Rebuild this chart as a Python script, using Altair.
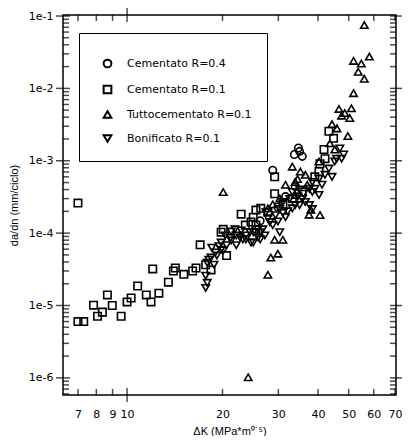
import altair as alt
import pandas as pd

# ---------------- data ----------------
series_names = ["Cementato R=0.4", "Cementato R=0.1", "Tuttocementato R=0.1", "Bonificato R=0.1"]
shapes = ["circle", "square", "triangle-up", "triangle-down"]

dk_cem04 = [34.7, 35.0, 33.7, 35.7, 28.8, 26.3, 25.5, 31.6, 33.9, 29.9]
dadn_cem04 = [1.5e-3, 1.35e-3, 1.22e-3, 1.15e-3, 7.4e-4, 1.48e-4, 1.13e-4, 3.2e-4, 4.4e-4, 2.3e-4]

dk_cem01 = [7.0, 7.0, 7.3, 7.84, 8.07, 8.36, 8.67, 8.98, 9.58, 10.0, 10.3, 10.8, 11.5, 11.9,
            12.05, 12.6, 13.5, 14.0, 14.2, 15.1, 16.1, 16.5, 17.0, 17.7, 18.4, 19.8, 20.1, 20.6,
            22.9, 23.6, 24.6, 25.0, 25.5, 25.5, 26.4, 27.8, 29.2, 29.2, 31.0, 33.2, 35.7,
            39.1, 40.3, 40.6, 41.8, 42.1, 43.3, 44.8]
dadn_cem01 = [2.6e-4, 6.0e-6, 6.0e-6, 1.01e-5, 7.1e-6, 8.1e-6, 1.4e-5, 1.0e-5, 7.1e-6, 1.12e-5,
              1.27e-5, 1.86e-5, 1.4e-5, 1.12e-5, 3.2e-5, 1.48e-5, 2.1e-5, 3.0e-5, 3.3e-5, 2.7e-5,
              3.0e-5, 3.3e-5, 6.9e-5, 3.66e-5, 3.1e-5, 1.03e-4, 1.13e-4, 4.9e-5, 1.83e-4, 1.29e-4,
              1.42e-4, 1.66e-4, 1.29e-4, 2.08e-4, 2.2e-4, 1.95e-4, 3.5e-4, 6.0e-4, 2.5e-4, 3.0e-4,
              3.7e-4, 6.0e-4, 7.1e-4, 9.1e-4, 1.43e-3, 1.07e-3, 2.56e-3, 2.04e-3]

dk_tutto = [20.1, 24.1, 27.8, 28.4, 29.9, 29.2, 31.0, 37.5, 40.6, 38.0,
            56.0, 58.1, 51.8, 54.8, 53.6, 56.0, 51.8, 46.6, 48.6, 51.0, 47.5, 50.4, 44.3, 45.9, 49.7,
            35.2, 36.5, 33.9, 31.6, 33.2, 45.2, 43.6, 40.3, 34.5, 37.0, 33.9, 27.8, 30.3, 28.8]
dadn_tutto = [3.7e-4, 1.02e-6, 2.66e-5, 4.6e-5, 5.2e-5, 8.1e-5, 8.1e-5, 1.8e-4, 1.78e-4, 2.1e-4,
              7.5e-2, 2.75e-2, 2.4e-2, 2.2e-2, 1.7e-2, 1.36e-2, 8.6e-3, 5.2e-3, 4.57e-3, 5.3e-3,
              4.2e-3, 3.9e-3, 3.2e-3, 2.8e-3, 2.2e-3,
              7.1e-4, 6.4e-4, 5.1e-4, 4.66e-4, 8.3e-4, 1.43e-3, 1.74e-3, 9.75e-4, 5.6e-4, 4.66e-4,
              3.37e-4, 2.2e-4, 3.0e-4, 2.5e-4]

dk_bonif = [17.7, 17.9, 17.7, 17.9, 18.4, 19.0, 19.8, 20.6, 21.3, 22.1, 23.2, 24.4, 25.0, 25.9,
            21.9, 18.1, 18.8, 19.2, 19.8, 20.1, 21.2, 22.1, 22.7, 23.7, 24.6, 25.9, 27.2, 18.5,
            19.5, 20.4, 21.3, 22.9, 26.4, 23.7, 25.0, 26.3, 26.8, 28.2, 27.4, 29.4, 30.3, 31.0,
            32.6, 33.2, 35.0, 35.7, 37.6, 38.4, 39.1, 40.3, 37.6, 33.9, 31.6, 28.8, 30.3, 47.5,
            45.2, 43.3, 44.3, 41.2, 42.1, 38.4, 40.3, 36.5, 38.4, 35.0, 48.2, 45.8, 46.9,
            27.8, 29.9, 32.1, 34.5, 36.0, 31.0, 33.2]
dadn_bonif = [2.58e-5, 2.06e-5, 1.75e-5, 3.9e-5, 4.6e-5, 5.4e-5, 5.9e-5, 6.8e-5, 7.9e-5, 9.3e-5,
              8.2e-5, 1.03e-4, 7.4e-5, 1.13e-4, 1.13e-4, 4.3e-5, 3.66e-5, 4.9e-5, 7.4e-5, 5.75e-5,
              8.6e-5, 6.8e-5, 8.7e-5, 9.3e-5, 7.4e-5, 8.7e-5, 9.3e-5, 6.3e-5, 6.6e-5, 9.3e-5,
              1.05e-4, 1.09e-4, 1.03e-4, 8.2e-5, 1.03e-4, 8.2e-5, 1.13e-4, 1.42e-4, 1.95e-4, 1.77e-4,
              2.15e-4, 2.69e-4, 2.96e-4, 3.7e-4, 4.0e-4, 2.96e-4, 4.09e-4, 5.1e-4, 4.09e-4, 5.6e-4,
              2.44e-4, 2.44e-4, 1.66e-4, 1.29e-4, 1.03e-4, 1.07e-3, 9.75e-4, 7.8e-4, 6.0e-4, 4.66e-4,
              6.4e-4, 3.7e-4, 3.37e-4, 2.69e-4, 2.15e-4, 2.44e-4, 1.22e-3, 1.07e-3, 1.48e-3,
              1.6e-4, 1.45e-4, 2.0e-4, 3.2e-4, 3.5e-4, 1.9e-4, 2.2e-4]

x_labels = [7, 8, 9, 10, 20, 30, 40, 50, 60, 70]
x_major = [10]
x_minor = [7, 8, 9, 20, 30, 40, 50, 60, 70]
y_labels = [1e-6, 1e-5, 1e-4, 1e-3, 1e-2, 1e-1]
y_decades = [-7, -6, -5, -4, -3, -2]
y_mult = [2, 3, 4, 5, 6, 7, 8, 9]

X_DOMAIN = [6.28, 70.5]
Y_DOMAIN = [5.8e-7, 0.1033]

# ---------------- build tables ----------------
rows = []
for name, dks, ys in [
    ("Cementato R=0.1", dk_cem01, dadn_cem01),
    ("Bonificato R=0.1", dk_bonif, dadn_bonif),
    ("Tuttocementato R=0.1", dk_tutto, dadn_tutto),
    ("Cementato R=0.4", dk_cem04, dadn_cem04),
]:
    for a, b in zip(dks, ys):
        rows.append({"dk": a, "dadn": b, "serie": name})
df = pd.DataFrame(rows)

y_minor = [m * 10.0 ** e for e in y_decades for m in y_mult]
y_minor = [v for v in y_minor if Y_DOMAIN[0] <= v <= Y_DOMAIN[1]]

xscale = alt.Scale(type="log", domain=X_DOMAIN, nice=False)
yscale = alt.Scale(type="log", domain=Y_DOMAIN, nice=False)

x_axis = alt.Axis(values=x_labels, labelExpr="'' + datum.value", labelFlush=False,
                  title="ΔK (MPa*m⁰˙⁵)", ticks=False, domain=False, grid=False,
                  labelPadding=13, titlePadding=6)
y_axis = alt.Axis(values=y_labels, labelFlush=False,
                  labelExpr="'1e' + round(log(datum.value) / LN10)",
                  title="da/dn (mm/ciclo)", ticks=False, domain=False, grid=False,
                  labelPadding=10, titlePadding=9)

points = alt.Chart(df).mark_point(
    filled=False, size=55, strokeWidth=1.6, color="black", opacity=1
).encode(
    x=alt.X("dk:Q", scale=xscale, axis=x_axis),
    y=alt.Y("dadn:Q", scale=yscale, axis=y_axis),
    shape=alt.Shape("serie:N", scale=alt.Scale(domain=series_names, range=shapes),
                    legend=alt.Legend(title=" ", titleFontSize=4, titlePadding=6,
                                      orient="none", legendX=16, legendY=18,
                                      padding=15, strokeColor="black", fillColor="white",
                                      labelFont="DejaVu Sans", labelFontSize=11,
                                      labelColor="black",
                                      labelExpr="datum.label + '\u2003\u2003\u2002'",
                                      symbolSize=60, symbolStrokeWidth=2,
                                      symbolStrokeColor="black", symbolOffset=8,
                                      rowPadding=9, labelOffset=14)),
)

ydf_major = pd.DataFrame({"dadn": y_labels})
ydf_minor = pd.DataFrame({"dadn": y_minor})
xdf_major = pd.DataFrame({"dk": x_major})
xdf_minor = pd.DataFrame({"dk": x_minor})


def ytick(data, right, size, inner):
    enc = {"y": alt.Y("dadn:Q", scale=yscale, axis=y_axis)}
    if right:
        enc["x"] = alt.XValue(alt.ExprRef(expr="width - %d" % inner))
    else:
        enc["x"] = alt.value(inner)
    return alt.Chart(data).mark_tick(orient="horizontal", size=size, thickness=1.5,
                                     color="black").encode(**enc)


def xtick(data, bottom, size, inner):
    enc = {"x": alt.X("dk:Q", scale=xscale, axis=x_axis)}
    if bottom:
        enc["y"] = alt.YValue(alt.ExprRef(expr="height - %d" % inner))
    else:
        enc["y"] = alt.value(inner)
    return alt.Chart(data).mark_tick(orient="vertical", size=size, thickness=1.5,
                                     color="black").encode(**enc)


chart = alt.layer(
    points,
    ytick(ydf_major, False, 14, 0), ytick(ydf_minor, False, 6, 3),
    ytick(ydf_major, True, 12, 0), ytick(ydf_minor, True, 6, 3),
    xtick(xdf_major, True, 14, 0), xtick(xdf_minor, True, 6, 3),
    xtick(xdf_major, False, 14, 0), xtick(xdf_minor, False, 6, 3),
).properties(
    width=394, height=428,
    padding={"left": 0, "top": 0, "right": 0, "bottom": 0},
    autosize=alt.AutoSizeParams(type="fit", contains="padding"),
).configure_view(
    stroke="black", strokeWidth=1.5
).configure_axis(
    labelFont="DejaVu Sans", labelFontSize=11, labelColor="black",
    titleFont="Liberation Sans", titleFontSize=11, titleFontWeight="normal", titleColor="black",
)

chart.save("out.html", embed_options={"renderer": "svg", "actions": False})
